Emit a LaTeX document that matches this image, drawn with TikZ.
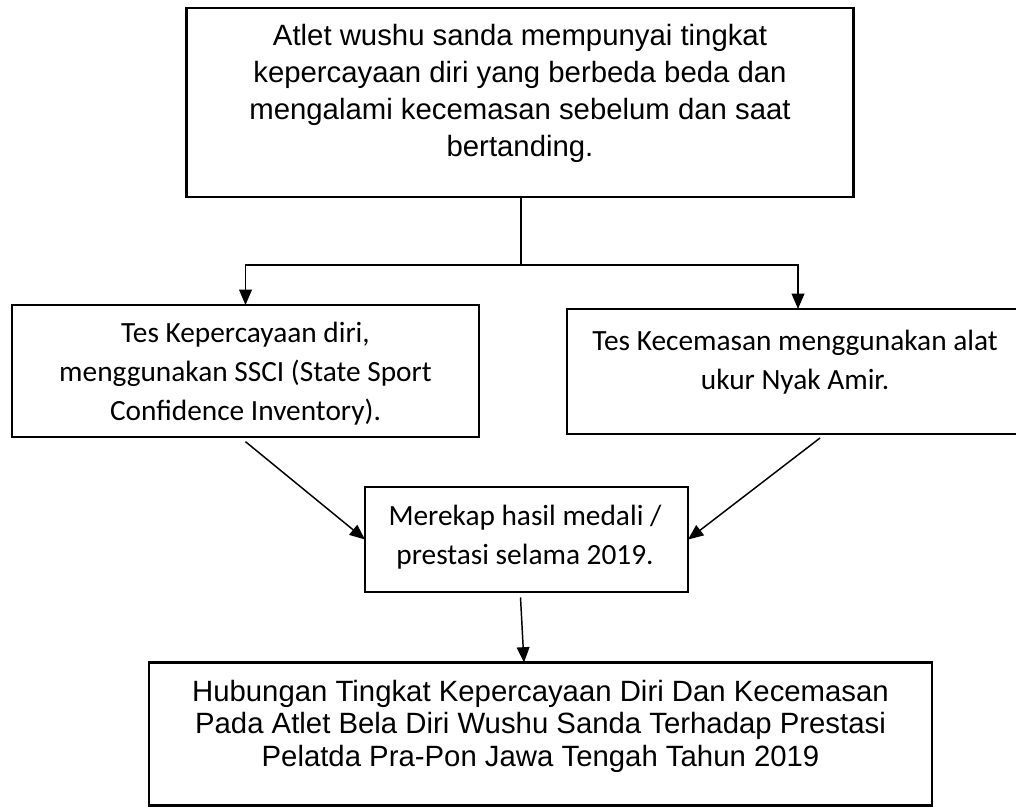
\documentclass[tikz,border=0pt]{standalone}
\usepackage{fontspec}
\setmainfont{Liberation Sans}
\newfontfamily\calibri{Carlito}
\usepackage{tikz}
\usetikzlibrary{arrows.meta,positioning,calc}
\tikzset{
  flowA/.style={
    every node/.style={inner sep=0pt, outer sep=0pt},
    line cap=butt, line join=miter,
  },
  box/.style={
    draw=black, line width=1.6pt, fill=white,
    inner sep=0pt,
  },
  armText/.style={
    font=\fontsize{22}{24.4}\selectfont, align=center, text=black,
  },
  calText/.style={
    font=\calibri\fontsize{22}{29.25}\selectfont, align=center, text=black,
  },
  flow/.style={-{Triangle[length=11.5pt, width=9.5pt]}, black, line width=1.1pt},
  stem/.style={black, line width=0.8pt},
}

\begin{document}
\begin{tikzpicture}[flowA, x=0.75pt, y=-0.75pt]

\useasboundingbox (0,0) rectangle (1016,808);

% ============================================================
% Boxes (pixel grid of the page, 1px = 0.75pt)
% ============================================================
\node[box, minimum width=500.25pt, minimum height=141.75pt]
  (atlet) at (520, 102.5) {};
\node[box, minimum width=350.25pt, minimum height=99pt]
  (tesPD) at (245.5, 371) {};
\node[box, minimum width=346.5pt, minimum height=93.75pt]
  (tesCemas) at (798, 371.5) {};
\node[box, minimum width=242.25pt, minimum height=78.75pt]
  (rekap) at (526.5, 539.5) {};
\node[box, minimum width=587.25pt, minimum height=107.25pt]
  (hubungan) at (540.5, 734) {};

% Texts -- sit a little above the box centres, as typed in the source
\node[armText, font=\fontsize{22}{27.75}\selectfont]
  (atletTxt) at (520, 93)
  {Atlet wushu sanda mempunyai tingkat\\
   kepercayaan diri yang berbeda beda dan\\
   mengalami kecemasan sebelum dan saat\\
   bertanding.};
\node[calText] (tesPDTxt) at (245.5, 374)
  {Tes Kepercayaan diri,\\
   menggunakan SSCI (State Sport\\
   Confidence Inventory).};
\node[calText] (tesCemasTxt) at (795, 362.5)
  {Tes Kecemasan menggunakan alat\\
   ukur Nyak Amir.};
\node[calText] (rekapTxt) at (525, 537)
  {Merekap hasil medali /\\
   prestasi selama 2019.};
\node[armText] (hubunganTxt) at (540.5, 726)
  {Hubungan Tingkat Kepercayaan Diri Dan Kecemasan\\
   Pada Atlet Bela Diri Wushu Sanda Terhadap Prestasi\\
   Pelatda Pra-Pon Jawa Tengah Tahun 2019};

% ============================================================
% Connectors
% ============================================================
\coordinate (split) at (521, 265);
\draw[stem] (atlet.south -| split) -- (split);
\draw[flow] (split) -| (tesPD.north);
\draw[flow] (split) -| (tesCemas.north);

% both tests feed the recap
\draw[flow] ([yshift=-3.5pt]tesPD.south) -- (rekap.west);
\draw[flow] ([xshift=16.5pt, yshift=-3pt]tesCemas.south) -- (rekap.east);

% recap down to the conclusion
\draw[flow] ([xshift=-4.5pt, yshift=-4pt]rekap.south)
  -- ([xshift=-12.4pt]hubungan.north);

\end{tikzpicture}
\end{document}
